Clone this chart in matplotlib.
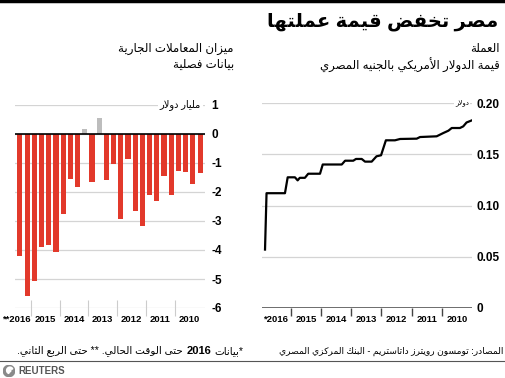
import re
import matplotlib
matplotlib.use('Agg')
import matplotlib.pyplot as plt
from matplotlib.patches import Circle, Wedge

plt.rcParams['font.family'] = ['Liberation Sans', 'DejaVu Sans']

# --- arabic shaping (matplotlib has no complex text layout) ---
AR = {'\u0621': (0xFE80, 1), '\u0622': (0xFE81, 2), '\u0623': (0xFE83, 2), '\u0624': (0xFE85, 2),
      '\u0625': (0xFE87, 2), '\u0626': (0xFE89, 4), '\u0627': (0xFE8D, 2), '\u0628': (0xFE8F, 4),
      '\u0629': (0xFE93, 2), '\u062A': (0xFE95, 4), '\u062B': (0xFE99, 4), '\u062C': (0xFE9D, 4),
      '\u062D': (0xFEA1, 4), '\u062E': (0xFEA5, 4), '\u062F': (0xFEA9, 2), '\u0630': (0xFEAB, 2),
      '\u0631': (0xFEAD, 2), '\u0632': (0xFEAF, 2), '\u0633': (0xFEB1, 4), '\u0634': (0xFEB5, 4),
      '\u0635': (0xFEB9, 4), '\u0636': (0xFEBD, 4), '\u0637': (0xFEC1, 4), '\u0638': (0xFEC5, 4),
      '\u0639': (0xFEC9, 4), '\u063A': (0xFECD, 4), '\u0641': (0xFED1, 4), '\u0642': (0xFED5, 4),
      '\u0643': (0xFED9, 4), '\u0644': (0xFEDD, 4), '\u0645': (0xFEE1, 4), '\u0646': (0xFEE5, 4),
      '\u0647': (0xFEE9, 4), '\u0648': (0xFEED, 2), '\u0649': (0xFEEF, 2), '\u064A': (0xFEF1, 4)}
LAM_ALEF = {'\u0627': 0xFEFB, '\u0623': 0xFEF7, '\u0625': 0xFEF9, '\u0622': 0xFEF5}


def ar(text):
    units = []
    i = 0
    while i < len(text):
        c = text[i]
        if c == '\u0644' and i + 1 < len(text) and text[i + 1] in LAM_ALEF:
            units.append((LAM_ALEF[text[i + 1]], 2))
            i += 2
        elif c in AR:
            units.append(AR[c])
            i += 1
        else:
            units.append(c)
            i += 1
    out = []
    for j, u in enumerate(units):
        if isinstance(u, str):
            out.append(u)
            continue
        b, k = u
        prv = j > 0 and isinstance(units[j - 1], tuple) and units[j - 1][1] == 4
        nxt = k == 4 and j + 1 < len(units) and isinstance(units[j + 1], tuple)
        if k == 4:
            off = 3 if (prv and nxt) else 1 if prv else 2 if nxt else 0
        elif k == 2:
            off = 1 if prv else 0
        else:
            off = 0
        out.append(chr(b + off))
    s = ''.join(out)
    toks = re.findall(r'[0-9]+(?:[.,][0-9]+)*|[^0-9]+', s)
    toks = [t if t[0].isdigit() else t[::-1] for t in toks]
    return ''.join(toks[::-1])


# --- data ---
# current account balance, quarterly, 2010 Q1 .. 2016 Q2 (bn $)
ca_values = [-1.33, -1.73, -1.31, -1.26,
             -2.11, -1.45, -2.31, -2.10,
             -3.17, -2.65, -0.86, -2.93,
             -1.03, -1.60, 0.54, -1.64,
             0.18, -1.83, -1.56, -2.77,
             -4.08, -3.82, -3.91, -5.06,
             -5.60, -4.22]
ca_years = ['2010', '2011', '2012', '2013', '2014', '2015', '**2016']

# USD value of one Egyptian pound
fx_time = [2016.85, 2016.80, 2016.19, 2016.10, 2015.86, 2015.77, 2015.70, 2015.53, 2015.42,
           2015.03, 2014.94, 2014.31, 2014.20, 2013.93, 2013.84, 2013.65, 2013.54, 2013.32,
           2013.16, 2013.01, 2012.85, 2012.55, 2012.38, 2011.83, 2011.72, 2011.17, 2010.95,
           2010.78, 2010.67, 2010.40, 2010.29, 2010.18, 2010.01]
fx_value = [0.057, 0.112, 0.112, 0.1275, 0.1275, 0.1245, 0.127, 0.127, 0.131,
            0.131, 0.140, 0.140, 0.1437, 0.1437, 0.1454, 0.1454, 0.1428, 0.1428,
            0.148, 0.149, 0.1636, 0.1636, 0.1649, 0.1652, 0.1668, 0.1675, 0.1707,
            0.173, 0.1756, 0.1756, 0.1772, 0.181, 0.183]
fx_years = ['2010', '2011', '2012', '2013', '2014', '2015', '*2016']

RED = '#e2392b'
GREY = '#bdbdbd'
GRID = '#d4d4d4'

fig = plt.figure(figsize=(5.06, 3.78), dpi=100)

# --- left: current account bars ---
ax1 = fig.add_axes([15 / 506, 1 - 308 / 378, 190 / 506, 203 / 378])
xs = list(range(len(ca_values)))
cols = [GREY if v > 0 else RED for v in ca_values]
ax1.bar(xs, ca_values, width=0.7, color=cols, zorder=2)
ax1.axhline(0, color='black', lw=1.2, zorder=3)
ax1.set_xlim(25.69, -0.69)
ax1.set_ylim(-6, 1)
ax1.set_yticks(range(-6, 2))
ax1.set_yticklabels([str(v) for v in range(-6, 2)])
ax1.yaxis.grid(True, color=GRID, lw=0.9, zorder=0)
ax1.yaxis.tick_right()
ax1.tick_params(axis='y', length=0, pad=4.5, labelsize=8.5)
for t in ax1.get_yticklabels():
    t.set_fontweight('bold')
ax1.set_xticks([4 * i + 1.5 for i in range(6)] + [25.5])
ax1.set_xticklabels(ca_years, fontsize=6.8, fontweight='bold')
ax1.set_xticks([4 * i + 3.5 for i in range(6)], minor=True)
ax1.tick_params(axis='x', which='major', length=0, pad=5)
ax1.tick_params(axis='x', which='minor', direction='inout', length=11.5, color='#cccccc', width=0.8)
for s in ax1.spines.values():
    s.set_visible(False)
ax1.text(-0.15, 1, ar('مليار دولار'), ha='right', va='center', fontsize=7,
         bbox=dict(facecolor='white', edgecolor='none', pad=1.5), zorder=4)

# --- right: exchange rate line ---
ax2 = fig.add_axes([262 / 506, 1 - 308 / 378, 210 / 506, 205 / 378])
ax2.plot(fx_time, fx_value, color='black', lw=1.6, zorder=3)
ax2.set_xlim(2016.95, 2010.0)
ax2.set_ylim(0, 0.2)
ax2.set_yticks([0, 0.05, 0.10, 0.15, 0.20])
ax2.set_yticklabels(['0', '0.05', '0.10', '0.15', '0.20'])
ax2.yaxis.grid(True, color=GRID, lw=0.9, zorder=0)
ax2.axhline(0, color='#555555', lw=1.2, zorder=2)
ax2.yaxis.tick_right()
ax2.tick_params(axis='y', length=0, pad=3.5, labelsize=8.5)
for t in ax2.get_yticklabels():
    t.set_fontweight('bold')
ax2.set_xticks([2010.5 + i for i in range(6)] + [2016.5])
ax2.set_xticklabels(fx_years, fontsize=6.8, fontweight='bold')
ax2.set_xticks([2011 + i for i in range(6)], minor=True)
ax2.tick_params(axis='x', which='major', length=0, pad=5)
ax2.tick_params(axis='x', which='minor', direction='out', length=6, color='#444444', width=1)
for s in ax2.spines.values():
    s.set_visible(False)
ax2.text(2010.1, 0.2, ar('دولار'), ha='right', va='center', fontsize=5,
         bbox=dict(facecolor='white', edgecolor='none', pad=1), zorder=4)

# --- texts ---
fig.add_artist(plt.Line2D([0, 1], [0.997, 0.997], color='black', lw=2.5, transform=fig.transFigure))
fig.text(498 / 506, 1 - 22 / 378, ar('مصر تخفض قيمة عملتها'), ha='right', va='center',
         fontsize=14, fontweight='bold')
fig.text(500 / 506, 1 - 49 / 378, ar('العملة'), ha='right', va='center', fontsize=8.5)
fig.text(500 / 506, 1 - 65 / 378, ar('قيمة الدولار الأمريكي بالجنيه المصري'), ha='right',
         va='center', fontsize=8.5)
fig.text(234 / 506, 1 - 49 / 378, ar('ميزان المعاملات الجارية'), ha='right', va='center', fontsize=8.5)
fig.text(234 / 506, 1 - 65 / 378, ar('بيانات فصلية'), ha='right', va='center', fontsize=8.5)

fig.text(503 / 506, 1 - 351 / 378, ar('المصادر: تومسون رويترز داتاستريم - البنك المركزي المصري'),
         ha='right', va='center', fontsize=6.6)

r = fig.canvas.get_renderer()
fy = 1 - 351 / 378
t1 = fig.text(243 / 506, fy, ar('*بيانات'), ha='right', va='center', fontsize=7.5)
x1 = t1.get_window_extent(r).x0 - 3
t2 = fig.text(x1 / 506, fy, '2016', ha='right', va='center', fontsize=8, fontweight='bold')
x2 = t2.get_window_extent(r).x0 - 3
fig.text(x2 / 506, fy, ar('حتى الوقت الحالي. ** حتى الربع الثاني.'), ha='right', va='center',
         fontsize=7.5)

fig.add_artist(plt.Line2D([0, 1], [1 - 361 / 378] * 2, color='#555555', lw=0.8,
                          transform=fig.transFigure))

# reuters mark
lax = fig.add_axes([3 / 506, 1 - 377 / 378, 12 / 506, 12 / 378])
lax.set_xlim(-1, 1)
lax.set_ylim(-1, 1)
lax.set_aspect('equal')
lax.axis('off')
lax.add_patch(Circle((0, 0), 0.95, color='#8a8a8a'))
lax.add_patch(Wedge((0.15, 0.1), 0.55, 30, 250, width=0.2, color='white'))
lax.add_patch(Circle((0.1, 0.05), 0.2, color='white'))
fig.text(18 / 506, 1 - 371 / 378, 'REUTERS', ha='left', va='center', fontsize=7,
         fontweight='bold', color='#555555')

fig.savefig('out.png', dpi=100)
